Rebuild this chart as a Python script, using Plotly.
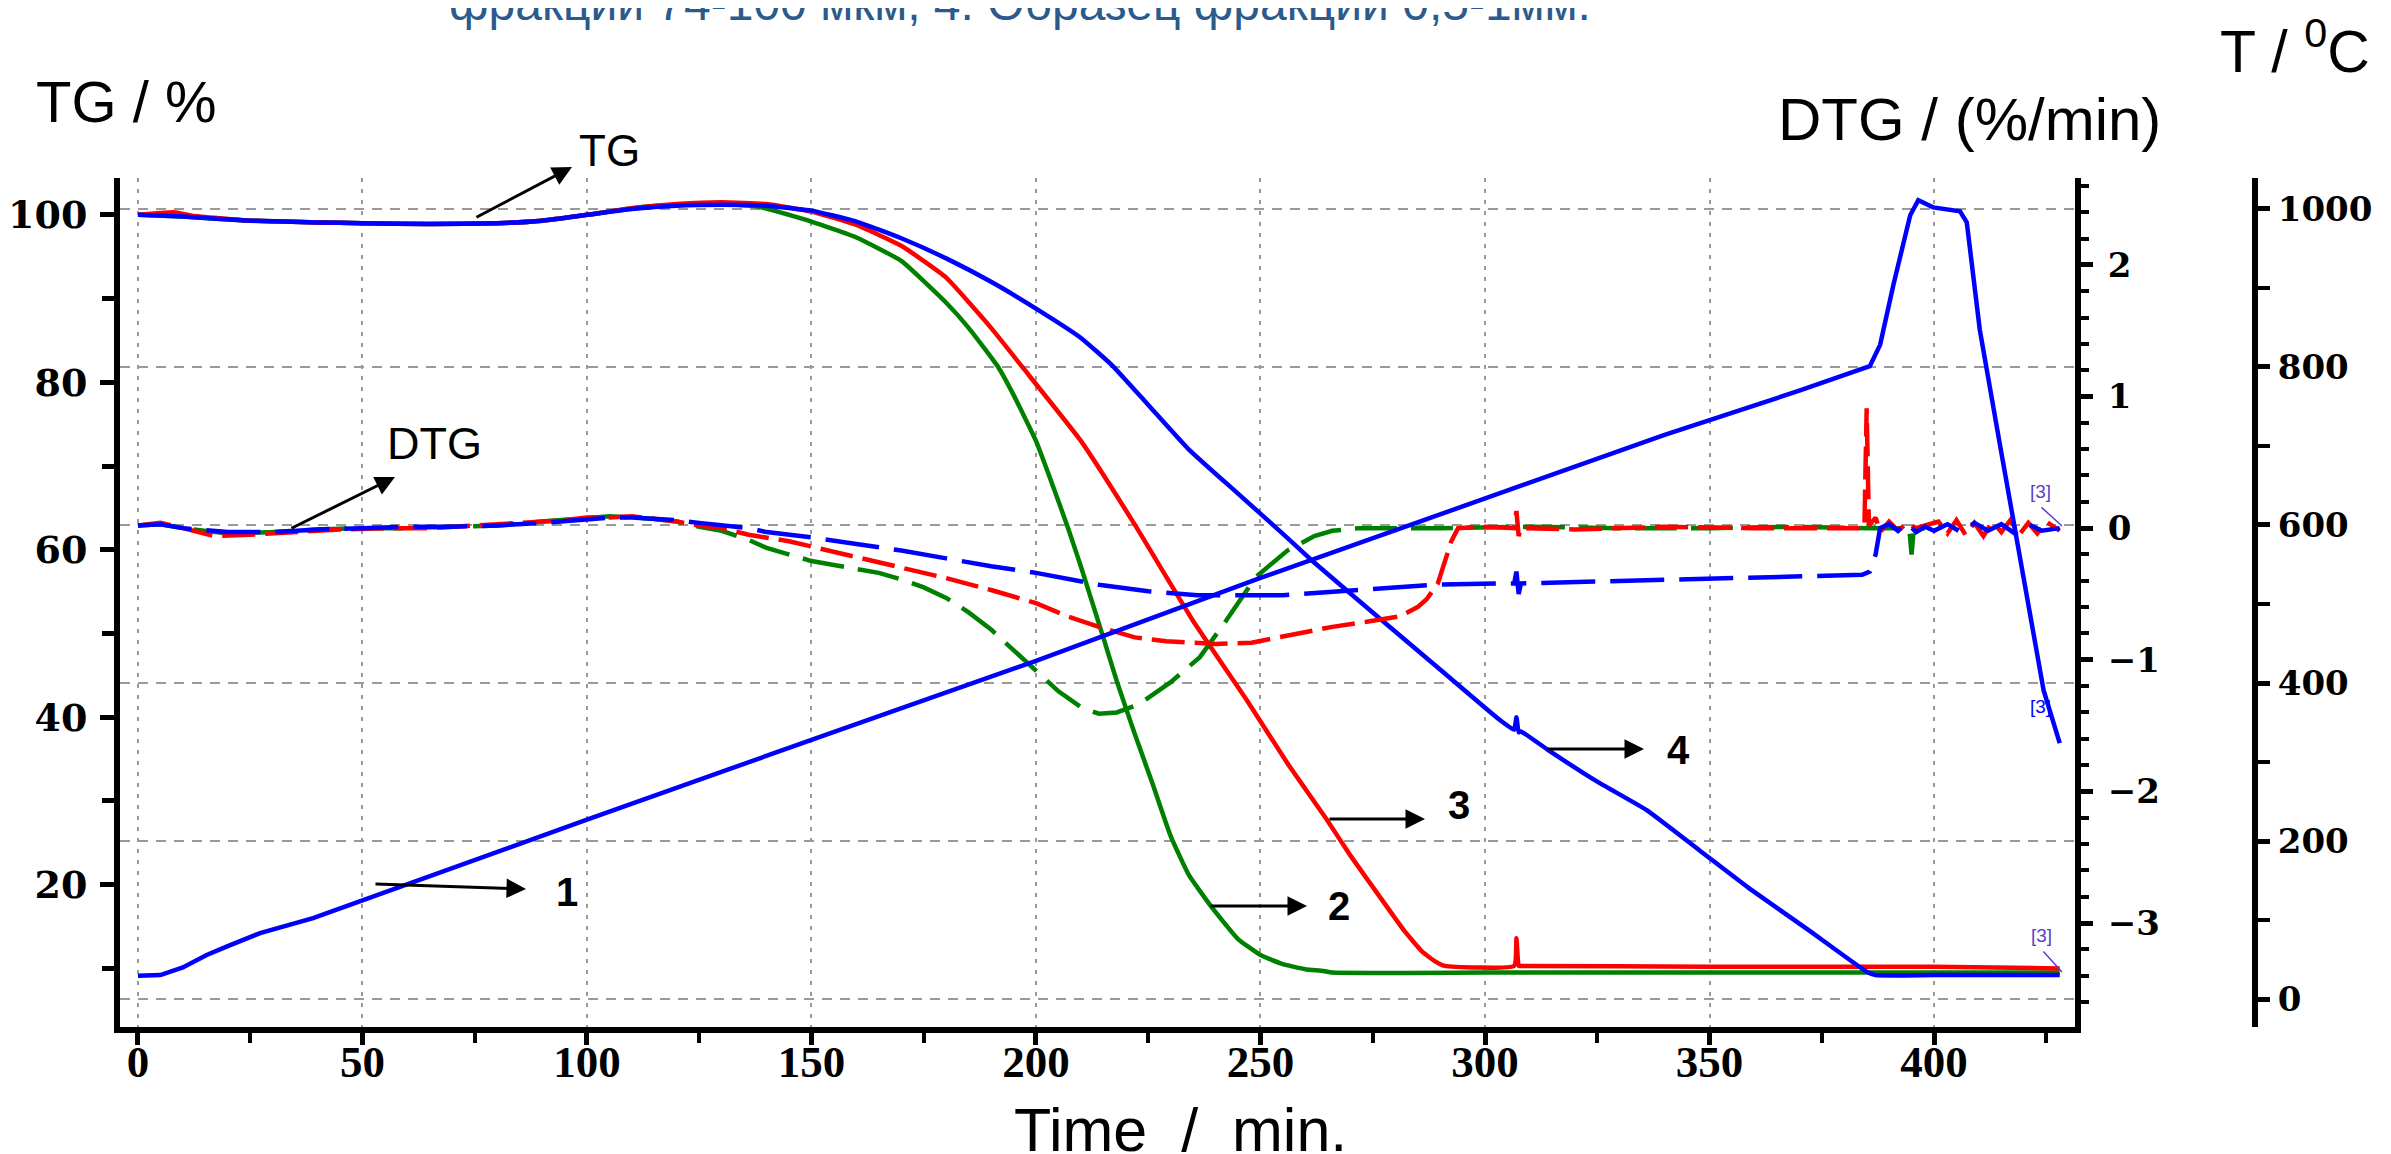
import plotly.graph_objects as go

# ---------------- data ----------------
# TG curves (% mass) vs time (min)
tg_green_t = [0, 10, 25, 40, 50, 65, 80, 90, 100, 110, 120, 130, 138, 145, 150, 160, 170, 180, 185, 191.6,
              195, 200, 205, 207, 210, 215, 218, 222, 226, 230, 234, 239, 245, 250, 255, 260, 264, 266, 300,
              350, 400, 428]
tg_green = [100, 99.8, 99.3, 99.1, 99.0, 98.9, 99.0, 99.3, 100.0, 100.8, 101.2, 101.3, 101.0, 100.0, 99.2,
            97.3, 94.5, 89.5, 86.5, 81.8, 78.5, 73.0, 65.8, 62.8, 58.0, 49.5, 44.3, 38.0, 32.0, 25.8, 21.2,
            17.4, 13.5, 11.6, 10.5, 9.9, 9.7, 9.5, 9.5, 9.5, 9.5, 9.5]

tg_red_t = [0, 8, 12, 25, 40, 50, 65, 80, 90, 100, 110, 120, 130, 140, 150, 160, 170, 180, 190, 197, 210,
            222, 235, 247, 256, 264.6, 270, 276.5, 282, 286, 289, 291, 306.5, 307, 307.5, 308, 350, 400, 428]
tg_red = [100, 100.3, 99.9, 99.3, 99.1, 99.0, 98.9, 99.0, 99.3, 100.0, 100.8, 101.3, 101.5, 101.3, 100.4,
          98.8, 96.3, 92.5, 86.5, 81.8, 73.0, 63.0, 51.5, 42.0, 34.5, 27.9, 23.5, 18.6, 14.5, 12.0, 10.8,
          10.3, 10.3, 13.6, 10.3, 10.3, 10.2, 10.2, 10.0]

tg_blue_t = [0, 10, 25, 40, 50, 65, 80, 90, 100, 110, 120, 130, 140, 150, 160, 170, 180, 190, 200, 210, 217,
             225, 234, 245, 255, 261.7, 275, 290, 303, 306.5, 307, 307.5, 308, 314, 325, 336, 348, 359, 372,
             385, 387, 400, 428]
tg_blue = [100, 99.8, 99.3, 99.1, 99.0, 98.9, 99.0, 99.3, 100.0, 100.7, 101.1, 101.2, 101.1, 100.5, 99.2,
           97.2, 94.8, 92.0, 88.8, 85.3, 82.0, 77.3, 72.0, 66.7, 61.9, 58.6, 52.5, 45.7, 39.8, 38.5, 40.0,
           38.2, 38.3, 36.1, 32.3, 28.9, 24.0, 19.5, 14.6, 9.6, 9.2, 9.2, 9.2]

# Temperature (deg C) vs time
temp_t = [0, 5, 10, 15.3, 20, 27.2, 39, 50, 100, 150, 200, 250, 300, 340, 370, 385.7, 388, 391, 394.7, 396.5,
          399.8, 405.8, 407.3, 410.2, 414.7, 419.2, 424.4, 428]
temp = [29.5, 30.4, 40, 55.7, 67, 83.5, 102.5, 125, 227, 328, 428, 533, 634, 714, 770, 801, 828, 905, 992,
        1011, 1002, 997, 983, 847, 701, 556, 391, 324]

# DTG curves (%/min) vs time
dtg_green_t = [0, 5, 10, 20, 30, 40, 50, 60, 70, 80, 90, 100, 105, 110, 115, 120, 125, 130, 136, 140, 145, 150,
               155, 160, 165, 170, 175, 180, 185, 190, 195, 200, 205, 210, 214, 218, 222, 225, 230, 236.5, 242.4,
               249, 256, 262, 266, 272, 290, 310, 330, 350, 370, 385, 390, 394.5, 395, 395.5, 398]
dtg_green = [0.02, 0.03, 0.0, -0.04, -0.03, -0.01, 0.0, 0.0, 0.01, 0.02, 0.05, 0.08, 0.09, 0.08, 0.07, 0.05,
             0.01, -0.02, -0.09, -0.15, -0.2, -0.25, -0.28, -0.31, -0.34, -0.39, -0.45, -0.53, -0.64, -0.77,
             -0.93, -1.08, -1.24, -1.36, -1.41, -1.40, -1.35, -1.29, -1.17, -0.98, -0.70, -0.37, -0.17, -0.06,
             -0.02, 0.0, 0.0, 0.01, 0.0, 0.0, 0.01, 0.0, 0.0, 0.0, -0.2, 0.0, 0.0]

dtg_red_t = [0, 5, 10, 17, 25, 35, 45, 55, 65, 75, 85, 95, 100, 105, 110, 115, 120, 125, 130, 136, 140, 145,
             150, 160, 170, 180, 190, 200, 207, 214, 222, 229, 240, 248, 257, 266, 274, 281, 285, 287, 289.5,
             291, 292.5, 294, 300, 306.5, 307, 307.5, 308, 320, 340, 360, 384.5, 385, 385.5, 387, 388, 390,
             392, 394, 396, 398, 401, 403, 405, 407, 409, 411, 413, 415, 417, 419, 421, 423, 425, 428]
dtg_red = [0.02, 0.04, 0.0, -0.06, -0.05, -0.03, -0.01, 0.0, 0.0, 0.02, 0.04, 0.06, 0.08, 0.08, 0.09, 0.07,
           0.05, 0.02, 0.0, -0.05, -0.07, -0.1, -0.14, -0.22, -0.3, -0.38, -0.47, -0.57, -0.67, -0.75, -0.83,
           -0.86, -0.88, -0.87, -0.81, -0.75, -0.71, -0.67, -0.6, -0.54, -0.42, -0.25, -0.1, 0.0, 0.01, 0.0,
           0.13, -0.06, 0.0, -0.01, 0.01, 0.0, 0.0, 0.91, 0.02, 0.08, -0.03, 0.05, -0.02, 0.04, 0.0, 0.02,
           0.05, -0.04, 0.06, -0.05, 0.04, -0.06, 0.05, -0.03, 0.06, -0.05, 0.04, -0.04, 0.05, -0.02]

dtg_blue_t = [0, 5, 10, 20, 30, 40, 50, 60, 70, 80, 90, 100, 105, 110, 115, 120, 125, 130, 136, 140, 150, 160,
              170, 180, 190, 200, 214, 225, 236, 255, 273.6, 288.5, 303, 306.5, 307, 307.5, 308, 330, 350, 374,
              384, 385.7, 387, 388, 390, 392, 394, 396, 398, 400, 403, 406, 409, 412, 415, 418, 421, 424, 428]
dtg_blue = [0.02, 0.03, 0.0, -0.03, -0.03, -0.01, 0.0, 0.01, 0.01, 0.02, 0.04, 0.07, 0.08, 0.08, 0.07, 0.06,
            0.04, 0.02, 0.0, -0.03, -0.07, -0.12, -0.17, -0.23, -0.29, -0.34, -0.43, -0.48, -0.51, -0.51,
            -0.47, -0.43, -0.42, -0.42, -0.33, -0.5, -0.42, -0.4, -0.38, -0.36, -0.355, -0.33, -0.2, 0.0,
            0.03, -0.02, 0.04, -0.03, 0.01, -0.02, 0.03, -0.03, 0.04, -0.02, 0.03, -0.04, 0.03, -0.02, 0.0]

x_ticks = [0, 50, 100, 150, 200, 250, 300, 350, 400]

GREEN, RED, BLUE = "#008000", "#ff0000", "#0000ff"

# ---------------- layout geometry (pixels) ----------------
# The page body keeps the browser's default 8px margin, so the figure is
# drawn 8px smaller and all reference pixel positions are shifted by 8px.
OFF = 8
W, H = 2391 - OFF, 1154 - OFF
ML = 120 - OFF
MT = 178 - OFF
PLOT_R = 2075 - OFF
TAX_X = 2255 - OFF
PLOT_B = 1027 - OFF
MR = W - TAX_X
MB = H - PLOT_B
PW, PH = W - ML - MR, H - MT - MB
X_DOMAIN_END = (PLOT_R - ML) / PW


def px(xp):
    return (xp - OFF - ML) / PW


def py(yp):
    return (PLOT_B - (yp - OFF)) / PH


fig = go.Figure()

# DTG (dashed) on y2
fig.add_trace(go.Scatter(x=dtg_green_t, y=dtg_green, yaxis="y2", mode="lines",
                         line=dict(color=GREEN, width=4.5, dash="42px,14px")))
fig.add_trace(go.Scatter(x=dtg_red_t, y=dtg_red, yaxis="y2", mode="lines",
                         line=dict(color=RED, width=4.5, dash="33px,10px")))
fig.add_trace(go.Scatter(x=dtg_blue_t, y=dtg_blue, yaxis="y2", mode="lines",
                         line=dict(color=BLUE, width=4.5, dash="54px,15px")))
# Temperature on y3
fig.add_trace(go.Scatter(x=temp_t, y=temp, yaxis="y3", mode="lines",
                         line=dict(color=BLUE, width=4.5)))
# TG on y (lightly smoothed)
for tt, vv, cc in ((tg_green_t, tg_green, GREEN), (tg_red_t, tg_red, RED), (tg_blue_t, tg_blue, BLUE)):
    fig.add_trace(go.Scatter(x=tt, y=vv, yaxis="y", mode="lines",
                             line=dict(color=cc, width=4.5, shape="spline", smoothing=0.4)))

serif_bold = dict(family="DejaVu Serif", size=34, color="black", weight="bold")
times_bold = dict(family="Liberation Serif", size=45, color="black", weight="bold")

fig.update_layout(
    width=W, height=H, autosize=False,
    margin=dict(l=ML, r=MR, t=MT, b=MB, pad=0),
    paper_bgcolor="white", plot_bgcolor="white",
    showlegend=False,
    xaxis=dict(
        domain=[0, X_DOMAIN_END], range=[-4.0, 431.4],
        tickmode="array", tickvals=x_ticks, ticks="outside", ticklen=12, tickwidth=5,
        tickcolor="black", tickfont=times_bold, ticklabelstandoff=-22,
        minor=dict(dtick=25, tick0=0, ticks="outside", ticklen=10, tickwidth=4, tickcolor="black"),
        showline=True, linecolor="black", linewidth=6,
        showgrid=True, gridcolor="#9a9a9a", gridwidth=2, griddash="4px,7px",
        zeroline=False, automargin=False,
    ),
    yaxis=dict(
        range=[3.0, 104.4], dtick=20, tick0=0, ticks="outside", ticklen=14, tickwidth=5,
        tickcolor="black", tickfont=dict(family="DejaVu Serif", size=38, color="black", weight="bold"),
        ticklabelstandoff=5,
        minor=dict(dtick=10, tick0=0, ticks="outside", ticklen=12, tickwidth=5, tickcolor="black"),
        showline=True, linecolor="black", linewidth=6,
        showgrid=False, zeroline=False, automargin=False,
    ),
    yaxis2=dict(
        overlaying="y", side="right", anchor="x",
        range=[-3.79, 2.66], dtick=1, tick0=0, ticks="outside", ticklen=12, tickwidth=5,
        tickcolor="black", tickfont=serif_bold, ticklabelstandoff=8,
        minor=dict(dtick=0.2, tick0=0, ticks="outside", ticklen=8, tickwidth=4, tickcolor="black"),
        showline=True, linecolor="black", linewidth=6,
        showgrid=False, zeroline=False, automargin=False,
    ),
    yaxis3=dict(
        overlaying="y", side="right", anchor="free", position=1.0,
        range=[-35.4, 1039.2], dtick=200, tick0=0, ticks="outside", ticklen=12, tickwidth=5,
        tickcolor="black", tickfont=serif_bold, ticklabelstandoff=1,
        minor=dict(dtick=100, tick0=0, ticks="outside", ticklen=12, tickwidth=4, tickcolor="black"),
        showline=True, linecolor="black", linewidth=6,
        showgrid=True, gridcolor="#9a9a9a", gridwidth=2, griddash="10px,8px",
        zeroline=False, automargin=False,
    ),
)

sans = "Liberation Sans, Arial, sans-serif"
annotations = []


def text(x, y, s, size, color="black", bold=False, xanchor="center", yanchor="middle", family=sans):
    annotations.append(dict(
        x=px(x), y=py(y), xref="paper", yref="paper", text=s, showarrow=False,
        xanchor=xanchor, yanchor=yanchor,
        font=dict(family=family, size=size, color=color, weight="bold" if bold else "normal"),
    ))


def arrow(x0, y0, x1, y1, color="black", width=3, head=2, size=1.3):
    annotations.append(dict(
        x=px(x1), y=py(y1), xref="paper", yref="paper",
        ax=x0 - x1, ay=y0 - y1, axref="pixel", ayref="pixel",
        text="", showarrow=True, arrowhead=head, arrowsize=size, arrowwidth=width,
        arrowcolor=color, standoff=0, startstandoff=0,
    ))


# clipped title at the very top
text(1020, 32, "фракции 74-100 мкм, 4. Образец фракции 0,5-1мм.", 48, color="#2b5a8c",
     yanchor="bottom")
# axis titles
text(126, 101, "TG / %", 58)
text(1969, 120, "DTG / (%/min)", 60)
text(2295, 47, "T / <sup>0</sup>C", 59)
text(1180, 1130, "Time  /  min.", 61)

# curve labels with arrows
text(609, 150, "TG", 44)
arrow(475, 218, 572, 167)
text(434, 443, "DTG", 45)
arrow(290, 529, 395, 477)
text(567, 892, "1", 40, bold=True)
arrow(374, 884, 526, 889)
text(1339, 906, "2", 40, bold=True)
arrow(1209, 906, 1307, 906)
text(1459, 805, "3", 40, bold=True)
arrow(1328, 819, 1425, 819)
text(1679, 750, "4", 40, bold=True)
arrow(1546, 749, 1644, 749)

# small "[3]" end labels
LBL = "#5a3fc8"
text(2040, 492, "[3]", 19, color=LBL)
arrow(2040, 506, 2062, 526, color=LBL, width=1.5, head=0)
text(2040, 706, "[3]", 19, color=BLUE)
text(2041, 935, "[3]", 19, color=LBL)
arrow(2042, 950, 2062, 972, color=LBL, width=1.5, head=0)

fig.update_layout(annotations=annotations)

fig.write_html("out.html")
